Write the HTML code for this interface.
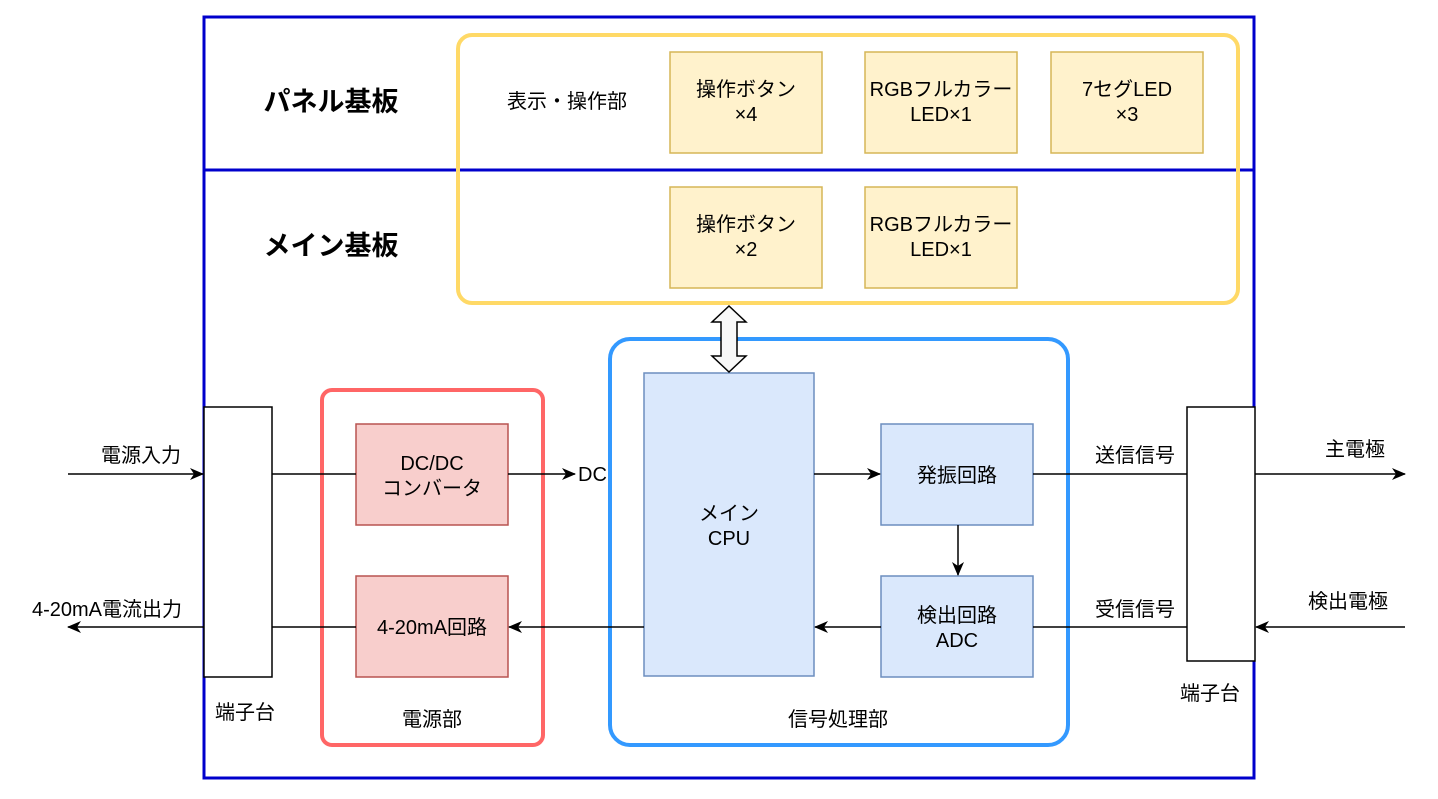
<!DOCTYPE html>
<html><head><meta charset="utf-8"><style>
html,body{margin:0;padding:0;background:#fff;width:1438px;height:799px;overflow:hidden}
text{font-family:"Liberation Sans","Noto Sans CJK JP",sans-serif;font-size:20px;fill:#000}
.b{font-weight:bold;font-size:27px}
</style></head><body>
<svg width="1438" height="799" viewBox="0 0 1438 799" xmlns="http://www.w3.org/2000/svg">
<defs><marker id="a" markerWidth="14" markerHeight="12" refX="13" refY="6" orient="auto" markerUnits="userSpaceOnUse"><path d="M0,0 L14,6 L0,12 L4,6 z" fill="#000"/></marker></defs>
<rect x="204" y="17" width="1050" height="761" fill="none" stroke="#0000CC" stroke-width="3"/>
<line x1="204" y1="170" x2="1254" y2="170" stroke="#0000CC" stroke-width="3"/>
<text class="b" x="331" y="111" text-anchor="middle">パネル基板</text>
<text class="b" x="331" y="255" text-anchor="middle">メイン基板</text>
<rect x="458" y="35" width="780" height="268" rx="14" fill="none" stroke="#FFD966" stroke-width="4"/>
<text x="567" y="108" text-anchor="middle">表示・操作部</text>
<g fill="#FFF2CC" stroke="#D6B656" stroke-width="1.5">
<rect x="670" y="52" width="152" height="101"/><rect x="865" y="52" width="152" height="101"/><rect x="1051" y="52" width="152" height="101"/>
<rect x="670" y="187" width="152" height="101"/><rect x="865" y="187" width="152" height="101"/></g>
<g text-anchor="middle">
<text x="746" y="96">操作ボタン</text><text x="746" y="121">×4</text>
<text x="941" y="96">RGBフルカラー</text><text x="941" y="121">LED×1</text>
<text x="1127" y="96">7セグLED</text><text x="1127" y="121">×3</text>
<text x="746" y="231">操作ボタン</text><text x="746" y="256">×2</text>
<text x="941" y="231">RGBフルカラー</text><text x="941" y="256">LED×1</text></g>
<rect x="610" y="339" width="458" height="406" rx="20" fill="none" stroke="#3399FF" stroke-width="4"/>
<rect x="322" y="390" width="221" height="355" rx="10" fill="none" stroke="#FF6666" stroke-width="4"/>
<g fill="#DAE8FC" stroke="#6C8EBF" stroke-width="1.5">
<rect x="644" y="373" width="170" height="303"/><rect x="881" y="424" width="152" height="101"/><rect x="881" y="576" width="152" height="101"/></g>
<g fill="#F8CECC" stroke="#B85450" stroke-width="1.5">
<rect x="356" y="424" width="152" height="101"/><rect x="356" y="576" width="152" height="101"/></g>
<path d="M729,306 L746,322 L737,322 L737,356 L746,356 L729,372 L712,356 L721,356 L721,322 L712,322 Z" fill="#f8f8f8" stroke="#000" stroke-width="1.5"/>
<rect x="204" y="407" width="68" height="270" fill="#fff" stroke="#000" stroke-width="1.5"/>
<rect x="1187" y="407" width="68" height="254" fill="#fff" stroke="#000" stroke-width="1.5"/>
<g stroke="#000" stroke-width="1.5" fill="none">
<line x1="68" y1="474" x2="203" y2="474" marker-end="url(#a)"/>
<line x1="272" y1="474" x2="356" y2="474"/>
<line x1="508" y1="474" x2="575" y2="474" marker-end="url(#a)"/>
<line x1="814" y1="474" x2="880" y2="474" marker-end="url(#a)"/>
<line x1="958" y1="525" x2="958" y2="575" marker-end="url(#a)"/>
<line x1="881" y1="627" x2="815" y2="627" marker-end="url(#a)"/>
<line x1="644" y1="627" x2="509" y2="627" marker-end="url(#a)"/>
<line x1="356" y1="627" x2="272" y2="627"/>
<line x1="204" y1="627" x2="68" y2="627" marker-end="url(#a)"/>
<line x1="1033" y1="474" x2="1187" y2="474"/>
<line x1="1255" y1="474" x2="1405" y2="474" marker-end="url(#a)"/>
<line x1="1405" y1="627" x2="1256" y2="627" marker-end="url(#a)"/>
<line x1="1187" y1="627" x2="1033" y2="627"/>
</g>
<g text-anchor="middle">
<text x="432" y="470">DC/DC</text><text x="432" y="495">コンバータ</text>
<text x="432" y="634">4-20mA回路</text>
<text x="729" y="520">メイン</text><text x="729" y="545">CPU</text>
<text x="957" y="482">発振回路</text>
<text x="957" y="622">検出回路</text><text x="957" y="647">ADC</text>
<text x="141" y="462">電源入力</text>
<text x="107" y="616">4-20mA電流出力</text>
<text x="245" y="719">端子台</text>
<text x="432" y="726">電源部</text>
<text x="838" y="726">信号処理部</text>
<text x="1135" y="462">送信信号</text>
<text x="1135" y="616">受信信号</text>
<text x="1355" y="456">主電極</text>
<text x="1348" y="608">検出電極</text>
<text x="1210" y="700">端子台</text>
</g>
<text x="578" y="481">DC</text>
</svg>
</body></html>
